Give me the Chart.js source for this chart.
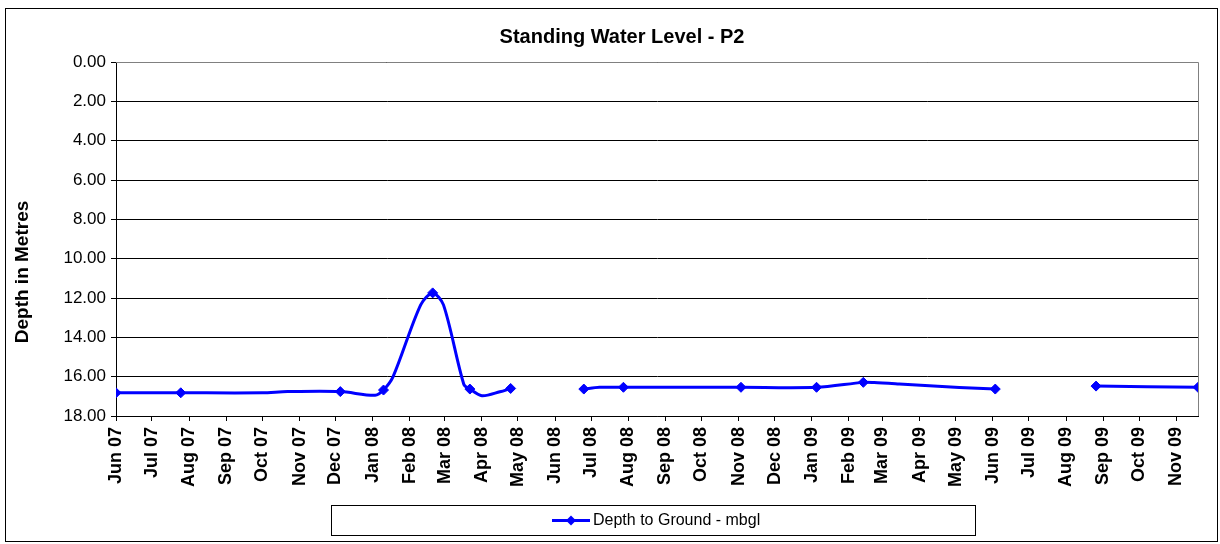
<!DOCTYPE html>
<html><head><meta charset="utf-8">
<script src="https://cdn.jsdelivr.net/npm/chart.js@4.4.1/dist/chart.umd.min.js"></script>
<style>html,body{margin:0;padding:0;background:#fff;}canvas{display:block;}</style>
</head><body>
<canvas id="c" width="1220" height="544"></canvas>
<script>
const chartTitle = 'Standing Water Level - P2';
const yAxisTitle = 'Depth in Metres';
const seriesName = 'Depth to Ground - mbgl';

const dates = ['2007-06-01','2007-07-25','2007-10-01','2007-10-22','2007-12-05','2008-01-03','2008-01-10','2008-01-18','2008-02-10','2008-02-20','2008-02-29','2008-03-17','2008-03-22','2008-04-01','2008-04-16','2008-04-25','2008-05-25','2008-06-25','2008-07-08','2008-07-28','2008-11-03','2009-01-05','2009-02-13','2009-02-22','2009-03-15','2009-05-04','2009-06-03','2009-07-15','2009-08-26','2009-11-19'];
const depths = [16.82,16.82,16.82,16.76,16.76,16.95,16.68,16.0,12.35,11.74,12.35,16.4,16.63,16.97,16.77,16.6,null,16.63,16.54,16.54,16.54,16.54,16.29,16.3,16.37,16.55,16.63,null,16.48,16.54];
const hasMarker = [true,true,false,false,true,false,true,false,false,true,false,false,true,false,false,true,false,true,false,true,true,true,true,false,false,false,true,false,true,true];

const xTickLabels = ['Jun 07','Jul 07','Aug 07','Sep 07','Oct 07','Nov 07','Dec 07','Jan 08','Feb 08','Mar 08','Apr 08','May 08','Jun 08','Jul 08','Aug 08','Sep 08','Oct 08','Nov 08','Dec 08','Jan 09','Feb 09','Mar 09','Apr 09','May 09','Jun 09','Jul 09','Aug 09','Sep 09','Oct 09','Nov 09'];
const yMin = 0, yMax = 18, yStep = 2;

const MONTHS = ['Jan','Feb','Mar','Apr','May','Jun','Jul','Aug','Sep','Oct','Nov','Dec'];
const ORIGIN = Date.parse(dates[0] + 'T00:00:00Z');
const dayOf = s => (Date.parse(s + 'T00:00:00Z') - ORIGIN) / 864e5;
const labelDay = l => { const p = l.split(' '); return (Date.UTC(2000 + (+p[1]), MONTHS.indexOf(p[0]), 1) - ORIGIN) / 864e5; };

const FONT = '"Liberation Sans", Arial, sans-serif';
const BLUE = '#0000FF';

const points = dates.map((d, i) => ({ x: dayOf(d), y: depths[i] }));

const decor = {
  id: 'decor',
  beforeDraw(chart) {
    const c = chart.ctx;
    c.save();
    c.fillStyle = '#fff';
    c.fillRect(0, 0, chart.width, chart.height);
    c.restore();
  },
  afterDraw(chart) {
    const c = chart.ctx, a = chart.chartArea;
    c.save();
    c.strokeStyle = '#808080'; c.lineWidth = 1;
    c.beginPath();
    c.moveTo(a.left, Math.round(a.top) + 0.5); c.lineTo(Math.round(a.right) + 0.5, Math.round(a.top) + 0.5);
    c.lineTo(Math.round(a.right) + 0.5, a.bottom);
    c.stroke();
    c.strokeStyle = '#000';
    c.strokeRect(5.5, 8.5, 1212, 533);
    c.fillStyle = '#000';
    c.font = 'bold 20px ' + FONT;
    c.textAlign = 'center'; c.textBaseline = 'middle';
    c.fillText(chartTitle, 622, 37);
    c.save();
    c.translate(23, 272);
    c.rotate(-Math.PI / 2);
    c.font = 'bold 19px ' + FONT;
    c.fillText(yAxisTitle, 0, 0);
    c.restore();
    c.strokeStyle = '#000'; c.lineWidth = 1;
    c.strokeRect(331.5, 505.5, 644, 30);
    c.strokeStyle = BLUE; c.lineWidth = 3;
    c.beginPath(); c.moveTo(552, 520.5); c.lineTo(590, 520.5); c.stroke();
    c.fillStyle = BLUE;
    c.beginPath();
    c.moveTo(571 - 5, 520.5); c.lineTo(571, 515.5); c.lineTo(571 + 5, 520.5); c.lineTo(571, 525.5); c.closePath();
    c.fill();
    c.fillStyle = '#000';
    c.font = '16px ' + FONT;
    c.textAlign = 'left'; c.textBaseline = 'middle';
    c.fillText(seriesName, 593, 521);
    c.restore();
  }
};

new Chart(document.getElementById('c'), {
  type: 'line',
  data: {
    datasets: [{
      label: seriesName,
      data: points,
      borderColor: BLUE,
      backgroundColor: BLUE,
      borderWidth: 3,
      tension: 0.3,
      spanGaps: false,
      pointStyle: 'rectRot',
      pointRadius: ctx => hasMarker[ctx.dataIndex] ? 5 : 0,
      pointBorderWidth: 1,
      pointBackgroundColor: BLUE,
      pointBorderColor: BLUE
    }]
  },
  options: {
    responsive: false,
    animation: false,
    events: [],
    layout: { padding: { top: 62, right: 22, bottom: 0, left: 0 } },
    plugins: { legend: { display: false }, title: { display: false }, tooltip: { enabled: false } },
    scales: {
      x: {
        type: 'linear',
        min: 0,
        max: dayOf(dates[dates.length - 1]),
        afterBuildTicks: s => { s.ticks = xTickLabels.map(l => ({ value: labelDay(l) })); },
        afterFit: s => { s.height = 128; },
        grid: { drawOnChartArea: false, drawTicks: true, tickLength: 5, color: '#000' },
        border: { color: '#000', width: 1 },
        ticks: {
          autoSkip: false, minRotation: 90, maxRotation: 90, padding: 6,
          color: '#000', font: { family: FONT, size: 18, weight: 'bold' },
          callback: (v, i) => xTickLabels[i]
        }
      },
      y: {
        type: 'linear',
        reverse: true,
        min: yMin, max: yMax,
        afterFit: s => { s.width = 116; },
        grid: { color: '#000', tickColor: '#000', tickLength: 5 },
        border: { color: '#000', width: 1 },
        ticks: {
          stepSize: yStep, padding: 5, color: '#000',
          font: { family: FONT, size: 17 },
          callback: v => v.toFixed(2)
        }
      }
    }
  },
  plugins: [decor]
});
</script>
</body></html>
